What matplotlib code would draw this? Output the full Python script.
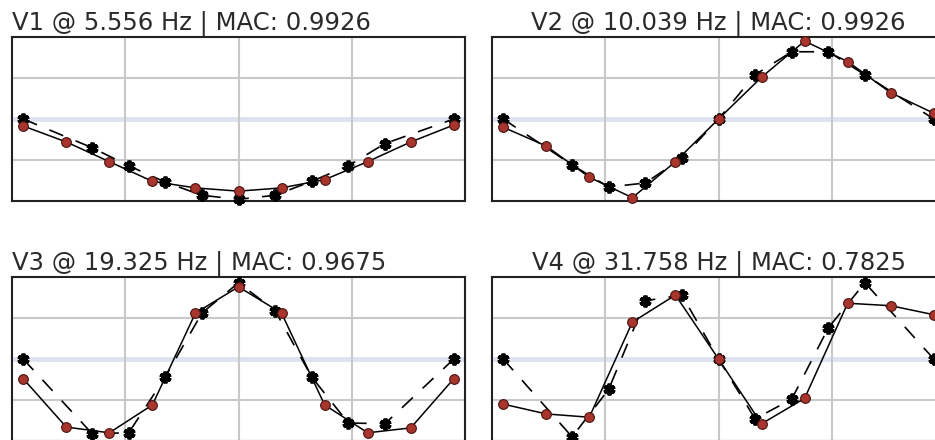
import numpy as np
import matplotlib
matplotlib.use("Agg")
from matplotlib import pyplot as plt

# model nodes and sensor locations along the beam
node_x = [0, 1, 2, 3, 4, 5, 6, 7, 8, 9, 10]
sensor_x = [0, 1.6, 2.45, 3.3, 4.15, 5.0, 5.85, 6.7, 7.55, 8.4, 10]

mode_names = ['V1', 'V2', 'V3', 'V4']
freqs_hz = [5.556, 10.039, 19.325, 31.758]
mac_values = [0.9926, 0.9926, 0.9675, 0.7825]

# analytical mode shapes (red circles)
model_v1 = [-0.085, -0.28, -0.52, -0.76, -0.84, -0.88, -0.84, -0.74, -0.52, -0.28, -0.073]
model_v2 = [-0.10, -0.33, -0.71, -0.96, -0.52, 0.0, 0.51, 0.95, 0.70, 0.32, 0.07]
model_v3 = [-0.24, -0.83, -0.90, -0.56, 0.56, 0.88, 0.56, -0.56, -0.90, -0.84, -0.24]
model_v4 = [-0.55, -0.67, -0.71, 0.45, 0.78, 0.0, -0.79, -0.48, 0.68, 0.65, 0.54]

# measured mode shapes (black stars)
meas_v1 = [0.0, -0.35, -0.57, -0.77, -0.93, -0.98, -0.93, -0.76, -0.57, -0.30, 0.0]
meas_v2 = [0.0, -0.56, -0.83, -0.78, -0.48, 0.0, 0.54, 0.82, 0.82, 0.54, 0.0]
meas_v3 = [0.0, -0.91, -0.90, -0.22, 0.56, 0.93, 0.59, -0.22, -0.78, -0.79, 0.0]
meas_v4 = [0.0, -0.95, -0.37, 0.71, 0.78, 0.0, -0.73, -0.49, 0.38, 0.93, 0.0]

model_shapes = [model_v1, model_v2, model_v3, model_v4]
meas_shapes = [meas_v1, meas_v2, meas_v3, meas_v4]

W, H = 935, 440
fig = plt.figure(figsize=(W / 100, H / 100), dpi=100)

# axes boxes in pixels: left, top, width, height
boxes = [(12, 37, 453, 164), (492, 37, 453, 164),
         (12, 277, 453, 164), (492, 277, 453, 164)]
title_loc = ['left', 'center', 'left', 'center']

for k, (l, t, w, h) in enumerate(boxes):
    ax = fig.add_axes([l / W, 1 - (t + h) / H, w / W, h / H])
    xlim = (-0.26, 10.26)
    ax.set_xlim(*xlim)
    ax.set_ylim(-1, 1)
    ax.set_xticks(np.linspace(xlim[0], xlim[1], 5)[1:-1])
    ax.set_yticks([-0.5, 0.5])
    ax.grid(True, color='#c8c8c8', lw=1.5)
    ax.tick_params(length=0, labelbottom=False, labelleft=False)
    ax.axhline(0, color='#dce3ef', lw=3.5, zorder=1)
    for sp in ax.spines.values():
        sp.set_color('#222222')
        sp.set_linewidth(1.5)

    ax.plot(sensor_x, meas_shapes[k], color='black', lw=1.2, ls=(0, (9, 8)),
            marker=(6, 2, 0), ms=8.5, mew=2.8, mec='black', zorder=3, clip_on=False)
    ax.plot(node_x, model_shapes[k], color='black', lw=1.1,
            marker='o', ms=7, mfc='#a8352d', mec='#4a1410', mew=0.8, zorder=4,
            clip_on=False)

    ax.set_title(f'{mode_names[k]} @ {freqs_hz[k]:.3f} Hz | MAC: {mac_values[k]:.4f}',
                 loc=title_loc[k], fontsize=17.5, color='#2a2a2a', pad=5)

fig.savefig('out.png', dpi=100)
